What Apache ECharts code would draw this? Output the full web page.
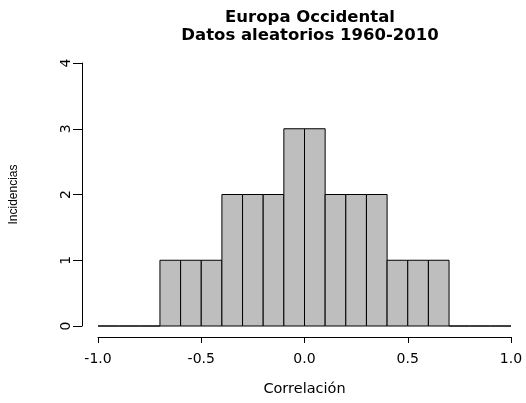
<!DOCTYPE html>
<html>
<head>
<meta charset="utf-8">
<script src="https://cdn.jsdelivr.net/npm/echarts@6/dist/echarts.min.js"></script>
<style>html,body{margin:0;padding:0;background:#fff}#c{width:526px;height:403px}</style>
</head>
<body>
<div id="c"></div>
<script>
const binStarts = [-1.0,-0.9,-0.8,-0.7,-0.6,-0.5,-0.4,-0.3,-0.2,-0.1,0.0,0.1,0.2,0.3,0.4,0.5,0.6,0.7,0.8,0.9];
const binWidth = 0.1;
const counts = [0,0,0,1,1,1,2,2,2,3,3,2,2,2,1,1,1,0,0,0];
const xTicks = [-1.0,-0.5,0.0,0.5,1.0];
const xTickLabels = ['-1.0','-0.5','0.0','0.5','1.0'];
const yTicks = [0,1,2,3,4];
const titleLines = ['Europa Occidental','Datos aleatorios 1960-2010'];
const xName = 'Correlación';
const yName = 'Incidencias';

const data = binStarts.map((s,i)=>[s, s+binWidth, counts[i]]);
function fmtX(v){
  const k = xTicks.findIndex(t => Math.abs(t - v) < 1e-6);
  return k >= 0 ? xTickLabels[k] : '';
}
const chart = echarts.init(document.getElementById('c'), null, {renderer:'canvas'});
chart.setOption({
  animation:false,
  backgroundColor:'#fff',
  title:{
    text: titleLines.join('\n'),
    left: 305, top: 4, textAlign:'center',
    textStyle:{fontFamily:'DejaVu Sans', fontWeight:'bold', fontSize:16.5, lineHeight:18, color:'#000'}
  },
  grid:{left:98, right:15, top:63, bottom:77},
  xAxis:{
    type:'value', min:xTicks[0], max:xTicks[xTicks.length-1], interval:0.5, offset:11,
    axisLine:{show:true, onZero:false, lineStyle:{color:'#000', width:1}},
    axisTick:{show:true, length:6, lineStyle:{color:'#000'}, customValues:xTicks},
    splitLine:{show:false},
    axisLabel:{margin:15, color:'#000', fontFamily:'DejaVu Sans', fontSize:14, formatter:fmtX, customValues:xTicks},
    name:xName, nameLocation:'middle', nameGap:45,
    nameTextStyle:{fontFamily:'DejaVu Sans', fontSize:14.5, color:'#000'}
  },
  yAxis:{
    type:'value', min:yTicks[0], max:yTicks[yTicks.length-1], interval:1, offset:16,
    axisLine:{show:true, onZero:false, lineStyle:{color:'#000', width:1}},
    axisTick:{show:true, length:9, lineStyle:{color:'#000'}},
    splitLine:{show:false},
    axisLabel:{margin:9, rotate:90, color:'#000', fontFamily:'DejaVu Sans', fontSize:14},
    name:yName, nameLocation:'middle', nameGap:62, nameRotate:90,
    nameTextStyle:{fontFamily:'Liberation Sans', fontSize:12, color:'#000'}
  },
  series:[{
    type:'custom',
    clip:false,
    data:data,
    renderItem:function(params, api){
      const p0 = api.coord([api.value(0), 0]);
      const p1 = api.coord([api.value(1), api.value(2)]);
      return {
        type:'rect',
        shape:{x:p0[0], y:p1[1], width:p1[0]-p0[0], height:p0[1]-p1[1]},
        style:{fill:'#bebebe', stroke:'#000', lineWidth:1}
      };
    }
  }]
});
</script>
</body>
</html>
